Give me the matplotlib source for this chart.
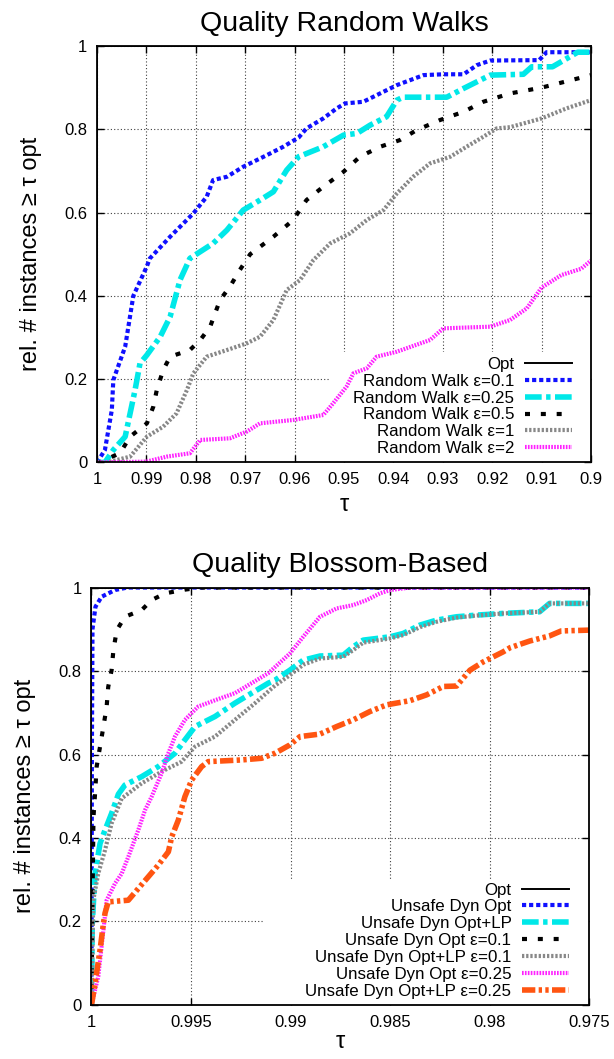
import matplotlib
matplotlib.use("Agg")
import matplotlib.pyplot as plt
from matplotlib.patches import Rectangle

plt.rcParams['font.family'] = ['Liberation Sans', 'DejaVu Sans']

# ---------------- data: top chart (Random Walks) ----------------
rw_opt_tau = [1.0, 1.0, 0.9]
rw_opt_frac = [0.0, 1.0, 1.0]

rw01_tau = [1.0, 0.9984, 0.997, 0.9967, 0.9943, 0.99265, 0.98994, 0.9893, 0.9852, 0.9805, 0.9778, 0.9765,
            0.9737, 0.9704, 0.9656, 0.9623, 0.9592, 0.9576, 0.9542, 0.9515, 0.9498, 0.9461, 0.9427, 0.9393,
            0.9366, 0.9339, 0.9299, 0.9258, 0.9231, 0.9204, 0.9105, 0.909, 0.9]
rw01_frac = [0.0, 0.03, 0.126, 0.198, 0.278, 0.40, 0.47, 0.49, 0.542, 0.598, 0.638, 0.678,
             0.686, 0.71, 0.738, 0.758, 0.78, 0.802, 0.826, 0.85, 0.862, 0.866, 0.886, 0.906,
             0.918, 0.93, 0.932, 0.932, 0.954, 0.965, 0.966, 0.985, 0.985]

rw025_tau = [1.0, 0.9984, 0.9967, 0.9943, 0.9933, 0.9923, 0.9913, 0.9899, 0.9872, 0.9852, 0.9832, 0.9812,
             0.9765, 0.9737, 0.9704, 0.967, 0.9643, 0.9616, 0.9592, 0.9542, 0.9501, 0.9474, 0.9447, 0.9414,
             0.9393, 0.938, 0.9292, 0.9258, 0.9231, 0.9204, 0.9137, 0.912, 0.9078, 0.9027, 0.9]
rw025_frac = [0.0, 0.0, 0.03, 0.062, 0.118, 0.174, 0.238, 0.258, 0.302, 0.35, 0.438, 0.49,
              0.526, 0.558, 0.606, 0.63, 0.65, 0.702, 0.734, 0.758, 0.786, 0.79, 0.81, 0.83,
              0.87, 0.877, 0.877, 0.898, 0.914, 0.93, 0.932, 0.95, 0.95, 0.985, 0.985]

rw05_tau = [1.0, 0.9994, 0.9953, 0.9933, 0.9899, 0.9886, 0.9879, 0.9866, 0.9852, 0.9812, 0.9791, 0.9771,
            0.9751, 0.9731, 0.9711, 0.969, 0.9643, 0.9603, 0.9576, 0.9542, 0.9501, 0.9468, 0.9427, 0.9387,
            0.9353, 0.9306, 0.9258, 0.9218, 0.9164, 0.91, 0.905, 0.9]
rw05_frac = [0.0, 0.0, 0.023, 0.062, 0.094, 0.134, 0.174, 0.222, 0.254, 0.27, 0.294, 0.326,
             0.39, 0.422, 0.462, 0.5, 0.542, 0.582, 0.63, 0.662, 0.698, 0.734, 0.758, 0.774,
             0.798, 0.822, 0.842, 0.866, 0.886, 0.9, 0.915, 0.93]

rw1_tau = [1.0, 0.998, 0.9933, 0.9899, 0.9866, 0.9839, 0.9818, 0.9805, 0.9778, 0.9737, 0.9697, 0.967,
           0.9643, 0.9616, 0.9589, 0.9562, 0.9528, 0.9488, 0.9454, 0.942, 0.9393, 0.936, 0.9326, 0.9285,
           0.9252, 0.9218, 0.9191, 0.9164, 0.91, 0.905, 0.9]
rw1_frac = [0.0, 0.0, 0.014, 0.062, 0.086, 0.118, 0.174, 0.214, 0.254, 0.27, 0.286, 0.302,
            0.342, 0.414, 0.438, 0.486, 0.526, 0.55, 0.582, 0.606, 0.646, 0.686, 0.718, 0.734,
            0.758, 0.782, 0.802, 0.805, 0.826, 0.85, 0.87]

rw2_tau = [1.0, 0.99, 0.9859, 0.9812, 0.9791, 0.9731, 0.9697, 0.967, 0.9603, 0.9542, 0.9522, 0.9495,
           0.9481, 0.9454, 0.9434, 0.9393, 0.9326, 0.9299, 0.9204, 0.9164, 0.913, 0.91, 0.906, 0.902, 0.9]
rw2_frac = [0.0, 0.002, 0.014, 0.022, 0.054, 0.058, 0.074, 0.094, 0.102, 0.114, 0.142, 0.182,
            0.214, 0.226, 0.254, 0.266, 0.294, 0.322, 0.326, 0.342, 0.37, 0.42, 0.45, 0.465, 0.485]

rw_labels = ["Opt", "Random Walk \u03b5=0.1", "Random Walk \u03b5=0.25", "Random Walk \u03b5=0.5",
             "Random Walk \u03b5=1", "Random Walk \u03b5=2"]
rw_xticks = [1.0, 0.99, 0.98, 0.97, 0.96, 0.95, 0.94, 0.93, 0.92, 0.91, 0.9]
rw_xticklabels = ["1", "0.99", "0.98", "0.97", "0.96", "0.95", "0.94", "0.93", "0.92", "0.91", "0.9"]

# ---------------- data: bottom chart (Blossom-Based) ----------------
bb_opt_tau = [1.0, 1.0, 0.975]
bb_opt_frac = [0.0, 1.0, 1.0]

udo_tau = [1.0, 0.99998, 0.99995, 0.9998, 0.99949, 0.99882, 0.9982, 0.975]
udo_frac = [0.0, 0.6, 0.9, 0.954, 0.978, 0.994, 1.0, 1.0]

udolp_tau = [1.0, 0.99996, 0.99982, 0.99957, 0.99932, 0.99899, 0.99865, 0.99832, 0.99748, 0.99665, 0.99581,
             0.99531, 0.9948, 0.9938, 0.9928, 0.99196, 0.99112, 0.99079, 0.99004, 0.98937, 0.98853, 0.98736,
             0.98686, 0.98636, 0.98501, 0.98435, 0.98351, 0.98267, 0.98167, 0.98066, 0.97933, 0.9775, 0.977,
             0.975]
udolp_frac = [0.0, 0.196, 0.315, 0.387, 0.419, 0.459, 0.505, 0.527, 0.547, 0.571, 0.603,
              0.635, 0.667, 0.691, 0.723, 0.747, 0.771, 0.778, 0.802, 0.826, 0.836, 0.838,
              0.858, 0.874, 0.882, 0.89, 0.91, 0.922, 0.93, 0.934, 0.938, 0.942, 0.962,
              0.962]

udo01_tau = [1.0, 0.99995, 0.9999, 0.99982, 0.99974, 0.99957, 0.9994, 0.99924, 0.99916, 0.99899, 0.9989,
             0.99873, 0.99832, 0.99748, 0.99698, 0.99631, 0.99531, 0.9945, 0.975]
udo01_frac = [0.0, 0.25, 0.45, 0.507, 0.571, 0.619, 0.667, 0.714, 0.762, 0.802, 0.85,
              0.898, 0.93, 0.946, 0.97, 0.986, 0.995, 1.0, 1.0]

udolp01_tau = [1.0, 0.99991, 0.99966, 0.99932, 0.99899, 0.99848, 0.99748, 0.99648, 0.99547, 0.9948, 0.9938,
               0.9928, 0.99179, 0.99079, 0.99004, 0.98937, 0.98853, 0.98736, 0.98686, 0.98636, 0.98501,
               0.98435, 0.98351, 0.98267, 0.98167, 0.98066, 0.97933, 0.9775, 0.977, 0.975]
udolp01_frac = [0.0, 0.251, 0.315, 0.371, 0.435, 0.495, 0.531, 0.559, 0.583, 0.619, 0.643,
                0.683, 0.723, 0.765, 0.79, 0.815, 0.83, 0.834, 0.85, 0.868, 0.878,
                0.886, 0.905, 0.918, 0.928, 0.933, 0.938, 0.942, 0.962, 0.962]

udo025_tau = [1.0, 0.99966, 0.9994, 0.99924, 0.99882, 0.99848, 0.99815, 0.99765, 0.99731, 0.99698, 0.99648,
              0.99614, 0.99581, 0.99531, 0.99464, 0.9938, 0.9928, 0.99196, 0.99112, 0.99004, 0.98937,
              0.98853, 0.98769, 0.98686, 0.98618, 0.98552, 0.98501, 0.984, 0.975]
udo025_frac = [0.0, 0.068, 0.18, 0.251, 0.291, 0.315, 0.355, 0.419, 0.467, 0.499, 0.555,
               0.603, 0.643, 0.683, 0.715, 0.73, 0.747, 0.771, 0.795, 0.842, 0.882,
               0.93, 0.95, 0.958, 0.97, 0.986, 0.994, 1.0, 1.0]

udolp025_tau = [1.0, 0.99982, 0.99957, 0.9994, 0.99932, 0.99916, 0.99815, 0.99765, 0.99715, 0.99665, 0.99614,
                0.99597, 0.99564, 0.99531, 0.99497, 0.99447, 0.99414, 0.99246, 0.99146, 0.99079, 0.99004,
                0.98953, 0.98853, 0.98769, 0.98686, 0.98602, 0.98518, 0.98401, 0.98317, 0.98234, 0.98167,
                0.981, 0.98033, 0.97933, 0.97898, 0.97799, 0.97701, 0.97642, 0.975]
udolp025_frac = [0.0, 0.052, 0.132, 0.196, 0.22, 0.247, 0.251, 0.279, 0.307, 0.335, 0.367,
                 0.403, 0.443, 0.499, 0.539, 0.571, 0.583, 0.587, 0.591, 0.603, 0.623,
                 0.643, 0.649, 0.667, 0.683, 0.703, 0.719, 0.729, 0.743, 0.763, 0.764,
                 0.802, 0.822, 0.846, 0.856, 0.872, 0.884, 0.896, 0.898]

bb_labels = ["Opt", "Unsafe Dyn Opt", "Unsafe Dyn Opt+LP", "Unsafe Dyn Opt \u03b5=0.1",
             "Unsafe Dyn Opt+LP \u03b5=0.1", "Unsafe Dyn Opt \u03b5=0.25", "Unsafe Dyn Opt+LP \u03b5=0.25"]
bb_xticks = [1.0, 0.995, 0.99, 0.985, 0.98, 0.975]
bb_xticklabels = ["1", "0.995", "0.99", "0.985", "0.98", "0.975"]

yticks = [0, 0.2, 0.4, 0.6, 0.8, 1.0]
yticklabels = ["0", "0.2", "0.4", "0.6", "0.8", "1"]

# ---------------- styles ----------------
st_opt = dict(color="black", lw=1.4, ls="-")
st_blue = dict(color="#1010ff", lw=3.0, ls=(0, (1.0, 0.7)))
st_cyan = dict(color="#00e8e8", lw=4.0, ls=(0, (3.0, 0.8, 0.8, 0.8)))
st_black = dict(color="black", lw=3.0, ls=(0, (1.2, 2.6)))
st_gray = dict(color="#888888", lw=3.0, ls=(0, (0.55, 0.45)))
st_mag = dict(color="#ff22ff", lw=3.0, ls=(0, (0.4, 0.3)))
st_orange = dict(color="#ff5511", lw=4.0, ls=(0, (2.4, 0.6, 0.6, 0.6, 0.6, 0.6)))

fig = plt.figure(figsize=(6.14, 10.59), dpi=100)

TICK_FS = 12
LEG_FS = 12.2


def style_axes(ax, xlim, xticks, xticklabels, title, box, title_pad, xlabelpad):
    ax.set_xlim(*xlim)
    ax.set_ylim(0, 1)
    ax.set_xticks(xticks)
    ax.set_xticklabels(xticklabels)
    ax.set_yticks(yticks)
    ax.set_yticklabels(yticklabels)
    ax.tick_params(direction="in", length=5, width=1, top=True, right=True,
                   labelsize=TICK_FS, pad=7)
    ax.set_axisbelow(True)
    ax.grid(True, color="0.25", lw=0.8, ls=(0, (1, 2)))
    for s in ax.spines.values():
        s.set_linewidth(1.3)
    ax.set_title(title, fontsize=20.5, pad=title_pad)
    ax.set_xlabel("\u03c4", fontsize=17, labelpad=xlabelpad)
    ax.set_ylabel("rel. # instances \u2265 \u03c4 opt", fontsize=17, labelpad=16)
    ax.add_patch(Rectangle((box[0], 0), 1 - box[0], box[1], transform=ax.transAxes,
                           facecolor="white", edgecolor="none", zorder=1))


leg_kw = dict(loc="lower right", markerfirst=False, frameon=False, fontsize=LEG_FS,
              labelspacing=0.11, handlelength=2.75, handletextpad=0.65,
              borderaxespad=0.0, borderpad=0.0)

# ---- top chart ----
ax1 = fig.add_axes([0.158, 0.5633, 0.8046, 0.3933])
l = []
l += ax1.plot(rw_opt_tau, rw_opt_frac, **st_opt)
l += ax1.plot(rw01_tau, rw01_frac, **st_blue)
l += ax1.plot(rw025_tau, rw025_frac, **st_cyan)
l += ax1.plot(rw05_tau, rw05_frac, **st_black)
l += ax1.plot(rw1_tau, rw1_frac, **st_gray)
l += ax1.plot(rw2_tau, rw2_frac, **st_mag)
style_axes(ax1, (1.0, 0.9), rw_xticks, rw_xticklabels, "Quality Random Walks", (0.472, 0.265), 11, 5)
leg1 = ax1.legend(l, rw_labels, bbox_to_anchor=(0.9615, 0.015), **leg_kw)
leg1.set_zorder(1.5)

# ---- bottom chart ----
ax2 = fig.add_axes([0.149, 0.0510, 0.811, 0.3942])
l = []
l += ax2.plot(bb_opt_tau, bb_opt_frac, **st_opt)
l += ax2.plot(udo_tau, udo_frac, **st_blue)
l += ax2.plot(udolp_tau, udolp_frac, **st_cyan)
l += ax2.plot(udo01_tau, udo01_frac, **st_black)
l += ax2.plot(udolp01_tau, udolp01_frac, **st_gray)
l += ax2.plot(udo025_tau, udo025_frac, **st_mag)
l += ax2.plot(udolp025_tau, udolp025_frac, **st_orange)
style_axes(ax2, (1.0, 0.975), bb_xticks, bb_xticklabels, "Quality Blossom-Based", (0.344, 0.302), 11, 1)
leg2 = ax2.legend(l, bb_labels, bbox_to_anchor=(0.959, 0.015), **leg_kw)
leg2.set_zorder(1.5)

fig.savefig("out.png", dpi=100)
